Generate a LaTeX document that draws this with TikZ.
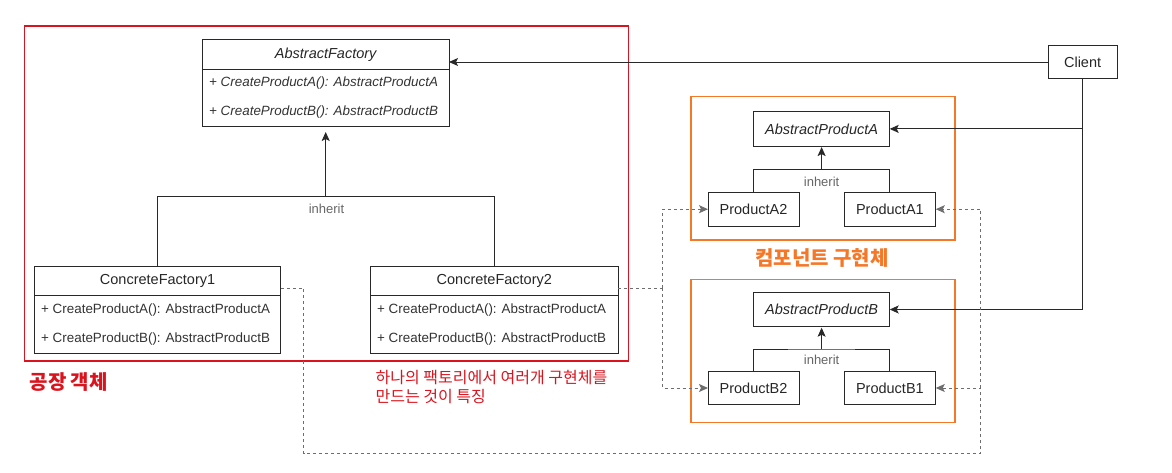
\documentclass[tikz,border=0pt]{standalone}
\usepackage{fontspec}
\setmainfont{Liberation Sans}
\newfontfamily\kr{Noto Sans CJK KR}
\usetikzlibrary{arrows.meta}
\definecolor{fred}{RGB}{218,20,30}
\definecolor{forg}{RGB}{245,120,40}
\definecolor{ln}{RGB}{40,40,40}
\definecolor{dl}{RGB}{110,110,110}
\begin{document}
\begin{tikzpicture}[x=1pt,y=-1pt,
  box/.style={draw=ln, line width=1pt, inner sep=0pt, outer sep=0pt},
  frame/.style={line width=1.4pt, inner sep=0pt, outer sep=0pt},
  nm/.style={font=\fontsize{14.5}{17}\selectfont, text=black!85},
  mt/.style={font=\fontsize{13.4}{16}\selectfont, anchor=west, text=black!80, inner sep=0pt},
  inh/.style={font=\fontsize{13}{15}\selectfont, text=black!60, inner sep=0pt},
  arr/.style={-{Stealth[length=9pt,width=8pt,inset=2pt]}},
  conn/.style={draw=ln, line width=0.9pt},
  dsh/.style={draw=dl, line width=1pt, dash pattern=on 3pt off 3pt}]
\useasboundingbox (0,0) rectangle (1172,473);
% frames
\node[frame, draw=fred, minimum width=604, minimum height=335, anchor=north west] (fgrp) at (24.5,26) {};
\node[frame, draw=forg, minimum width=264, minimum height=143.3, anchor=north west] (agrp) at (691,96.7) {};
\node[frame, draw=forg, minimum width=264, minimum height=143.4, anchor=north west] (bgrp) at (691,279.3) {};
% AbstractFactory
\node[box, minimum width=246.6, minimum height=87.7, anchor=north west] (af) at (202.4,39.3) {};
\draw[conn] (af.west |- 0,69) -- (af.east |- 0,69);
\node[nm] (aft) at (af.north |- 0,54.3) {\itshape AbstractFactory};
\node[mt] (afm1) at (209,83.3) {\itshape + CreateProductA(): AbstractProductA};
\node[mt] (afm2) at (209,112.3) {\itshape + CreateProductB(): AbstractProductB};
% ConcreteFactory1
\node[box, minimum width=246.5, minimum height=87.3, anchor=north west] (cf1) at (34.3,266) {};
\draw[conn] (cf1.west |- 0,295.3) -- (cf1.east |- 0,295.3);
\node[nm] (cf1t) at (cf1.north |- 0,280.7) {ConcreteFactory1};
\node[mt] (cf1m1) at (41,310) {+ CreateProductA(): AbstractProductA};
\node[mt] (cf1m2) at (41,339.3) {+ CreateProductB(): AbstractProductB};
% ConcreteFactory2
\node[box, minimum width=248.2, minimum height=87.3, anchor=north west] (cf2) at (370.2,266) {};
\draw[conn] (cf2.west |- 0,295.3) -- (cf2.east |- 0,295.3);
\node[nm] (cf2t) at (cf2.north |- 0,280.7) {ConcreteFactory2};
\node[mt] (cf2m1) at (377,310) {+ CreateProductA(): AbstractProductA};
\node[mt] (cf2m2) at (377,339.3) {+ CreateProductB(): AbstractProductB};
% Client
\node[box, nm, minimum width=69, minimum height=33.7] (client) at (1082.6,62) {Client};
% Products A
\node[box, nm, minimum width=136.2, minimum height=34.3] (apa) at (821.6,128.9) {\itshape AbstractProductA};
\node[box, nm, minimum width=91, minimum height=33.7] (pa2) at (753.5,209.2) {ProductA2};
\node[box, nm, minimum width=91.7, minimum height=33.7] (pa1) at (889.9,209.2) {ProductA1};
% Products B
\node[box, nm, minimum width=136.2, minimum height=34.4] (apb) at (821.6,309.5) {\itshape AbstractProductB};
\node[box, nm, minimum width=91, minimum height=33.4] (pb2) at (753.5,388) {ProductB2};
\node[box, nm, minimum width=91.7, minimum height=33.4] (pb1) at (889.9,388) {ProductB1};
% factory inheritance
\coordinate (fj) at (af.south |- 0,196.7);
\draw[conn] (cf1.north) |- (fj) -| (cf2.north);
\draw[conn,arr,shorten >=5pt] (fj) -- (af.south);
\node[inh] (inh1) at (326.5,209) {inherit};
% A inheritance
\coordinate (aj) at (apa.south |- 0,169.3);
\draw[conn] (pa2.north) |- (aj) -| (pa1.north);
\draw[conn,arr,shorten >=1pt] (aj) -- (apa.south);
\node[inh] (inh2) at (821.6,181.7) {inherit};
% B inheritance
\coordinate (bj) at (apb.south |- 0,349);
\draw[conn] (pb2.north) |- (bj) -| (pb1.north);
\draw[conn,arr,shorten >=1pt] (bj) -- (apb.south);
\node[inh] (inh3) at (821.6,360) {inherit};
% client connectors
\draw[conn,arr] (client.west) -- (af.east |- client.west);
\draw[conn,arr] (client.south) |- (apb.east);
\draw[conn,arr] (client.south |- apa.east) -- (apa.east);
% dashed
\coordinate (d2) at (662.7,288);
\draw[dsh] (cf2.east |- d2) -- (d2);
\draw[dsh,arr] (d2) |- (pa2.west);
\draw[dsh,arr] (d2) |- (pb2.west);
\coordinate (d1a) at (303.7,288);
\coordinate (d1b) at (303.7,453.7);
\coordinate (d1c) at (980.8,453.7);
\draw[dsh,arr] (cf1.east |- d1a) -- (d1a) -- (d1b) -- (d1c) |- (pb1.east);
\draw[dsh,arr] (d1c |- pb1.east) |- (pa1.east);
% labels
\node[font=\kr\bfseries\fontsize{20}{22}\selectfont, text=forg] (lblc) at (822,258.3) {컴포넌트 구현체};
\node[font=\kr\bfseries\fontsize{20}{22}\selectfont, text=fred, anchor=west, inner sep=0pt] (lblf) at (29.4,381.7) {공장 객체};
\node[font=\kr\fontsize{16}{19.4}\selectfont, text=fred, anchor=north west, align=left, inner sep=0pt] (lbln) at (375.5,370) {하나의 팩토리에서 여러개 구현체를\\만드는 것이 특징};
\end{tikzpicture}
\end{document}
